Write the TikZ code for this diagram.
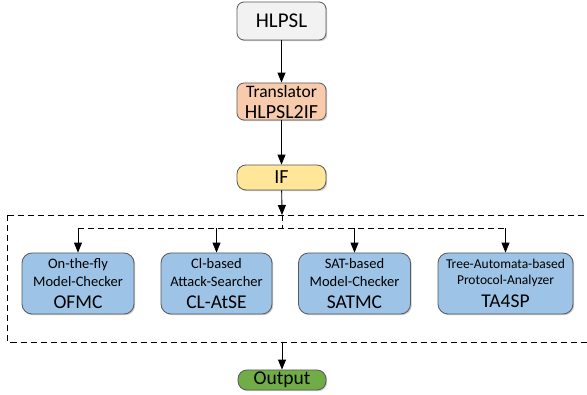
\documentclass[tikz,border=0pt]{standalone}
\usepackage{fontspec}
\setmainfont{Carlito}
\usetikzlibrary{shadows,arrows.meta}
\definecolor{boxgray}{HTML}{F2F2F2}
\definecolor{boxpeach}{HTML}{F8CBAD}
\definecolor{boxyellow}{HTML}{FFE699}
\definecolor{boxblue}{HTML}{9DC3E6}
\definecolor{boxgreen}{HTML}{70AD47}
\definecolor{edgegray}{HTML}{595959}
\tikzset{
  basebox/.style={draw=edgegray, line width=0.8pt, rounded corners=7pt, inner sep=0pt,
    drop shadow={shadow xshift=1.2pt, shadow yshift=-1.2pt, opacity=0.35, fill=black!60}},
  flowarrow/.style={-{Triangle[length=10pt,width=8pt]}, line width=0.9pt},
  dashline/.style={dash pattern=on 6pt off 4pt, line width=0.9pt},
  toolbox/.style={basebox, fill=boxblue, minimum height=61pt, rounded corners=10pt, align=center,
    font=\fontsize{14.5}{18}\selectfont},
}
\newcommand{\bigtool}[1]{{\fontsize{19.5}{20}\selectfont #1}}
\begin{document}
\begin{tikzpicture}[x=1pt,y=-1pt]
\useasboundingbox (0,0) rectangle (587,395);
% top chain
\node[basebox, fill=boxgray, minimum width=89pt, minimum height=38pt, font=\fontsize{21}{22}\selectfont] (hlpsl) at (281.5,21) {HLPSL};
\node[basebox, fill=boxpeach, minimum width=89pt, minimum height=37pt, align=center, font=\fontsize{17.5}{21}\selectfont] (trans) at (281.5,101.5) {Translator\\{\fontsize{20}{21}\selectfont HLPSL2IF}};
\node[basebox, fill=boxyellow, minimum width=89pt, minimum height=25pt, rounded corners=9pt, font=\fontsize{20}{20}\selectfont] (if) at (281.5,177.5) {IF};
% dashed frame
\draw[dashline] (7.5,215) -- (600,215);
\draw[dashline] (7.5,215) -- (7.5,342) -- (600,342);
% tool boxes
\node[toolbox, minimum width=112pt] (ofmc) at (78,283.5) {On-the-fly\\Model-Checker\\[4pt]\bigtool{OFMC}};
\node[toolbox, minimum width=111pt] (clatse) at (216.5,283.5) {Cl-based\\Attack-Searcher\\[4pt]\bigtool{CL-AtSE}};
\node[toolbox, minimum width=112pt] (satmc) at (354.5,283.5) {SAT-based\\Model-Checker\\[4pt]\bigtool{SATMC}};
\node[toolbox, minimum width=135pt, font=\fontsize{13.5}{16}\selectfont] (ta4sp) at (505.5,283.5) {Tree-Automata-based\\Protocol-Analyzer\\[7pt]\bigtool{TA4SP}};
% output
\node[basebox, fill=boxgreen, minimum width=88pt, minimum height=20pt, rounded corners=9pt, font=\fontsize{19.5}{20}\selectfont] (out) at (282,380) {Output};
% coordinates
\coordinate (ftop) at (282,215);
\coordinate (fbot) at (282,342);
\coordinate (split) at (282,228);
\coordinate (lft) at (78,228);
\coordinate (rgt) at (505.5,228);
\coordinate (cmid) at (216.5,228);
\coordinate (smid) at (354.5,228);
% connectors
\draw[flowarrow] (hlpsl) -- (trans);
\draw[flowarrow] (trans) -- (if);
\draw[flowarrow] (if) -- (ftop);
\draw[dashline] (ftop) -- (split);
\draw[dashline] (lft) -- (rgt);
\draw[flowarrow] (lft) -- (ofmc);
\draw[flowarrow] (cmid) -- (clatse);
\draw[flowarrow] (smid) -- (satmc);
\draw[flowarrow] (rgt) -- (ta4sp);
\draw[flowarrow] (fbot) -- (out);
\end{tikzpicture}
\end{document}
